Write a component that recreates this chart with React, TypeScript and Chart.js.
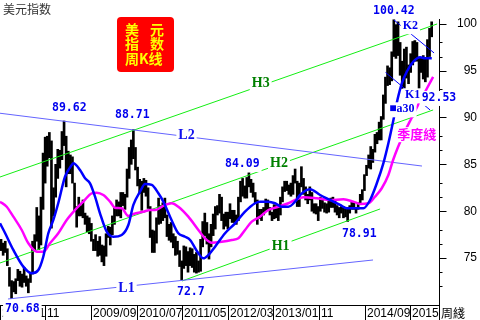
import React, { useEffect, useRef } from "react";
import { Chart, registerables } from "chart.js";

Chart.register(...registerables);

// ---------- data (weekly index from 2008-01-04; one candle per fortnight) ----------
const candleLows = [
  75.8, 75.3, 75.6, 74.2, 72.0, 70.68, 71.4, 71.2, 72.6, 72.0, 71.9, 72.4, 72.0, 71.3, 72.4, 73.3, 75.8, 76.8, 75.9, 76.4, 80.2, 83.0, 84.8, 85.7, 78.2, 79.5,
  81.5, 83.5, 84.6, 85.5, 87.0, 82.6, 84.0, 84.0, 83.0, 80.0, 78.3, 79.5, 79.5, 79.3, 78.6, 77.8, 77.6, 76.8, 75.8, 75.8, 75.2, 75.3, 74.6, 74.2, 75.2, 77.2,
  76.4, 77.5, 78.6, 79.5, 79.5, 79.3, 80.6, 80.2, 81.5, 83.5, 85.0, 85.6, 84.4, 82.7, 81.9, 80.1, 82.0, 81.6, 80.3, 77.2, 75.6, 75.6, 76.6, 78.6, 78.7, 79.0,
  79.3, 77.3, 76.9, 76.7, 76.1, 75.3, 75.4, 74.1, 72.7, 73.9, 74.2, 73.5, 74.2, 74.0, 73.5, 73.4, 73.5, 73.6, 76.2, 77.4, 76.5, 74.9, 76.2, 77.4, 78.1, 79.6,
  79.8, 79.0, 78.1, 78.4, 78.1, 79.2, 78.8, 78.8, 78.6, 79.0, 81.0, 81.6, 81.4, 81.4, 82.6, 82.0, 81.5, 80.9, 78.6, 79.2, 79.0, 79.6, 80.0, 80.1, 79.6, 79.0,
  79.2, 79.3, 79.0, 79.6, 81.0, 82.1, 82.2, 81.8, 81.6, 81.8, 83.0, 80.5, 80.5, 82.6, 81.8, 81.2, 80.8, 81.2, 80.0, 79.8, 79.7, 79.0, 80.0, 80.3, 79.9, 79.8,
  79.9, 80.4, 80.4, 79.9, 79.6, 79.3, 79.8, 79.3, 79.4, 78.91, 79.8, 80.2, 80.2, 79.8, 80.2, 80.8, 81.2, 82.2, 83.8, 84.6, 84.5, 85.2, 86.3, 87.2, 87.6, 87.6, 89.8,
  91.5, 93.4, 93.5, 93.9, 96.5, 96.3, 96.6, 94.5, 93.1, 93.1, 94.2, 93.6, 94.8, 95.6, 96.0, 96.0, 92.6, 94.8, 94.1, 93.8, 94.3, 96.5, 98.6,
];
const candleHighs = [
  77.0, 76.6, 76.8, 76.0, 74.0, 72.6, 72.5, 72.8, 73.8, 73.6, 73.3, 74.0, 73.1, 72.8, 73.4, 76.8, 77.5, 80.4, 79.5, 81.5, 86.2, 87.9, 88.0, 88.4, 87.5, 82.5,
  85.0, 86.6, 86.5, 88.5, 89.62, 88.0, 86.4, 86.0, 85.8, 83.0, 80.5, 81.5, 80.6, 81.2, 79.8, 79.5, 79.3, 78.7, 77.0, 77.5, 76.8, 77.3, 76.4, 76.3, 77.6, 78.4,
  78.3, 79.5, 80.5, 81.2, 81.0, 82.0, 82.0, 81.8, 84.5, 86.8, 87.6, 88.71, 86.8, 84.7, 83.4, 83.2, 83.5, 83.3, 82.5, 80.5, 78.0, 77.9, 79.3, 81.4, 80.6, 80.9,
  81.4, 79.6, 78.6, 78.8, 77.6, 77.3, 76.8, 75.8, 74.7, 76.3, 76.2, 75.7, 76.1, 76.0, 75.4, 75.6, 74.7, 77.0, 78.9, 79.8, 78.8, 77.6, 78.6, 79.7, 80.5, 80.6,
  81.8, 81.5, 79.7, 79.9, 79.9, 80.8, 80.1, 80.1, 79.6, 81.5, 83.2, 83.5, 82.7, 83.6, 84.09, 83.4, 83.0, 82.0, 81.2, 80.2, 80.2, 80.4, 81.3, 81.2, 80.4, 79.9,
  80.7, 80.6, 80.4, 81.5, 82.6, 83.2, 83.2, 82.8, 83.0, 83.8, 84.5, 83.2, 83.0, 84.75, 83.5, 82.6, 81.8, 82.6, 82.0, 80.8, 80.8, 80.5, 81.5, 81.2, 80.9, 80.8,
  81.3, 81.4, 81.5, 81.1, 80.6, 80.4, 80.5, 80.5, 80.3, 80.3, 80.6, 81.0, 80.9, 80.4, 80.9, 81.8, 82.3, 83.9, 84.9, 86.0, 86.9, 86.6, 88.2, 88.4, 89.5, 90.1, 92.4,
  94.3, 95.5, 95.3, 97.0, 100.42, 99.9, 100.2, 98.0, 96.0, 97.3, 97.5, 95.6, 96.8, 98.1, 98.2, 98.0, 96.3, 96.4, 96.6, 96.4, 98.3, 99.5, 100.2,
];

const blueMaWeeks = [
  0, 4.8, 12.7, 22.2, 30.2, 36.5, 41.2, 46, 50.8, 55.5, 61.9, 68.3, 69.8, 76.2, 81, 85.7, 90.5, 95.2, 101.6, 107.9,
  115.9, 122.2, 127, 133.3, 138.1, 144.5, 150.8, 155.5, 161.9, 169.8, 176.2, 181, 188.9, 193.6, 198.4, 204.8, 214.3, 223.8, 233.3, 242.9,
  247.6, 255.5, 261.9, 268.3, 274.6, 281, 285.7, 295.2, 304.8, 314.3, 323.8, 330.2, 346, 352.4, 358.8, 365, 369.8, 374.6, 378.4, 382.6,
  387.3, 393.6, 400, 404.8, 411.1,
];
const blueMaValues = [
  78.71, 77.68, 75.87, 74.09, 73.38, 73.73, 75.15, 77.65, 79.07, 80.88, 83.68, 84.93, 85.11, 84.4, 83.51, 82.98, 81.55, 79.78, 77.82, 77.28,
  77.47, 78.53, 80.67, 82.08, 82.91, 82.8, 81.91, 81.02, 79.42, 77.65, 77.28, 76.93, 75.51, 74.98, 75.33, 76.22, 77.65, 78.71, 79.95, 80.85,
  81.02, 81.02, 80.85, 80.48, 80.48, 81.02, 81.73, 82.34, 81.73, 81.2, 80.67, 80.31, 80.31, 81.2, 82.98, 85.11, 87.25, 89.73, 91.86, 93.64,
  94.88, 95.95, 96.42, 96.31, 96.31,
];

const seasonMaWeeks = [
  0, 6.4, 12.7, 20.7, 27, 35, 41.2, 47.6, 55.5, 63.5, 71.4, 79.3, 87.3, 92.1, 98.4, 104.8, 109.5, 115.9, 122.2, 127,
  136.5, 142.9, 147.6, 157.1, 163.5, 169.8, 179.3, 188.9, 195.2, 201.6, 211.1, 220.7, 227, 233.3, 239.7, 247.6, 255.5, 265, 274.6, 281,
  288.9, 301.6, 314.3, 327, 336.5, 342.9, 350.8, 357.1, 363.5, 369.8, 374.3, 379, 385.7, 392.4, 400, 406.7, 412.4,
];
const seasonMaValues = [
  81.02, 80.48, 79.42, 78.0, 76.58, 75.69, 75.69, 76.58, 77.65, 79.07, 80.13, 81.02, 81.91, 81.98, 81.73, 81.02, 80.38, 80.31, 79.49, 79.71,
  79.95, 80.13, 80.13, 80.67, 80.85, 80.48, 79.42, 78.0, 77.11, 76.64, 76.75, 76.93, 77.11, 78.0, 78.89, 79.42, 80.13, 80.48, 80.85, 81.2,
  81.49, 81.38, 81.2, 81.27, 81.02, 80.77, 80.85, 81.55, 82.45, 83.86, 85.46, 86.85, 88.56, 90.05, 91.76, 93.14, 94.32,
];

// trend lines: [week, value] end points
const lineL2 = [[0, 90.45], [401.8, 84.82]];
const lineL1 = [[7.6, 70.64], [355.2, 74.8]];
const lineH1 = [[173.3, 72.56], [361.9, 80.24]];
const lineH2 = [[0, 74.48], [412.4, 90.8]];
const lineH3 = [[0, 83.65], [416.2, 99.97]];
const lineK2 = [[375.2, 100.39], [413.3, 96.88]];
const lineK1 = [[367.1, 94.8], [409.5, 90.8]];

const yTickValues = [75, 80, 85, 90, 95, 100];
const yMinorTickValues = [72, 73.5, 76.5, 78, 81.5, 83, 86.5, 88, 91.5, 93, 96.5, 98];
const xTickWeeks = [0, 43.3, 86.7, 130, 173.4, 216.9, 260.4, 303.9, 347.3, 390.7];
const xTickLabels = ["2008/01", "11", "2009/09", "2010/07", "2011/05", "2012/03", "2013/01", "11", "2014/09", "2015"];

const priceNotes = [
  { text: "100.42", week: 355.2, value: 101.35 },
  { text: "89.62", week: 49.5, value: 91.01 },
  { text: "88.71", week: 109.5, value: 90.3 },
  { text: "84.09", week: 214.2, value: 85.04 },
  { text: "78.91", week: 325.6, value: 77.57 },
  { text: "72.7", week: 168.5, value: 71.4 },
  { text: "70.68", week: 4.8, value: 69.57 },
  { text: "92.53", week: 401.5, value: 92.08 },
];
const lineNotes = [
  { text: "H3", week: 239.7, value: 93.68, kind: "h" },
  { text: "H2", week: 257.1, value: 85.09, kind: "h" },
  { text: "H1", week: 258.7, value: 76.22, kind: "h" },
  { text: "L2", week: 169.8, value: 88.13, kind: "l" },
  { text: "L1", week: 112.7, value: 71.81, kind: "l" },
  { text: "K2", week: 383.4, value: 99.73, kind: "k" },
  { text: "K1", week: 385.6, value: 92.36, kind: "k" },
  { text: "■a30", week: 370.7, value: 90.87, kind: "k" },
  { text: "季度綫", week: 378.3, value: 88.22, kind: "s" },
];

// ---------- styles ----------
const GREEN = "#14ee14";
const PERI = "#6464ff";
const BLUE = "#0000ff";
const MAGENTA = "#ff00ff";

const noteStyle: Record<string, { font: string; color: string }> = {
  h: { font: "bold 14px 'Liberation Serif', serif", color: "#008000" },
  l: { font: "bold 14px 'Liberation Serif', serif", color: "#1010ee" },
  k: { font: "bold 12px 'Liberation Serif', 'DejaVu Sans', serif", color: "#0000ee" },
  s: { font: "bold 13px 'Noto Sans CJK SC', sans-serif", color: MAGENTA },
};

function toPoints(ws: number[], vs: number[]) {
  return ws.map((w, i) => ({ x: w, y: vs[i] }));
}
function segment(pts: number[][]) {
  return pts.map((p) => ({ x: p[0], y: p[1] }));
}

const overlayPlugin = {
  id: "overlay",
  afterDatasetsDraw(chart: any) {
    const { ctx, chartArea: area, scales } = chart;
    const xs = scales.x;
    const ys = scales.y;
    ctx.save();

    // axes
    const axisX = Math.round(area.right) + 0.5;
    const axisY = Math.round(area.bottom) + 0.5;
    ctx.strokeStyle = "#000";
    ctx.lineWidth = 1;
    ctx.beginPath();
    ctx.moveTo(axisX, Math.round(area.top));
    ctx.lineTo(axisX, 320);
    ctx.moveTo(0, axisY);
    ctx.lineTo(axisX, axisY);
    yTickValues.forEach((v) => {
      const py = Math.round(ys.getPixelForValue(v)) + 0.5;
      ctx.moveTo(axisX, py);
      ctx.lineTo(axisX + 7, py);
    });
    yMinorTickValues.forEach((v) => {
      const py = Math.round(ys.getPixelForValue(v)) + 0.5;
      ctx.moveTo(axisX, py);
      ctx.lineTo(axisX + 3, py);
    });
    xTickWeeks.forEach((w) => {
      const px = Math.round(xs.getPixelForValue(w)) + 0.5;
      ctx.moveTo(px, axisY);
      ctx.lineTo(px, 320);
    });
    ctx.stroke();

    ctx.fillStyle = "#000";
    ctx.font = "12px 'Liberation Sans', Arial, sans-serif";
    ctx.textAlign = "right";
    ctx.textBaseline = "middle";
    yTickValues.forEach((v) => ctx.fillText(String(v), 477, ys.getPixelForValue(v)));
    ctx.textAlign = "left";
    xTickWeeks.forEach((w, i) => {
      ctx.fillText(xTickLabels[i], Math.round(xs.getPixelForValue(w)) + 2, 313.5);
    });
    ctx.font = "12px 'Noto Sans CJK SC', sans-serif";
    ctx.fillText("周綫", 441, 313);

    // title
    ctx.fillStyle = "#333";
    ctx.font = "12px 'Noto Sans CJK SC', sans-serif";
    ctx.fillText("美元指数", 3, 9);

    // red badge
    ctx.fillStyle = "#ff0000";
    ctx.beginPath();
    ctx.roundRect(117, 17, 57, 55, 4);
    ctx.fill();
    ctx.fillStyle = "#ffff00";
    ctx.font = "bold 14px 'Noto Sans CJK SC', sans-serif";
    ctx.textAlign = "left";
    ctx.fillText("美", 125, 30);
    ctx.fillText("元", 150, 30);
    ctx.fillText("指", 125, 44);
    ctx.fillText("数", 150, 44);
    ctx.fillText("周K线", 125, 59);

    // notes with white background
    const drawNote = (text: string, px: number, py: number, font: string, color: string) => {
      ctx.font = font;
      const wdt = ctx.measureText(text).width;
      ctx.fillStyle = "#fff";
      ctx.fillRect(px - 2, py - 7, wdt + 4, 15);
      ctx.fillStyle = color;
      ctx.fillText(text, px, py);
    };
    ctx.textBaseline = "middle";
    lineNotes.forEach((n) => {
      const st = noteStyle[n.kind];
      drawNote(n.text, xs.getPixelForValue(n.week), ys.getPixelForValue(n.value), st.font, st.color);
    });
    priceNotes.forEach((n) => {
      drawNote(
        n.text,
        xs.getPixelForValue(n.week),
        ys.getPixelForValue(n.value),
        "bold 11.5px 'DejaVu Sans Mono', monospace",
        "#0000ee"
      );
    });

    ctx.restore();
  },
};

export default function App() {
  const ref = useRef<HTMLCanvasElement | null>(null);

  useEffect(() => {
    document.body.style.margin = "0";
    const canvas = ref.current;
    if (!canvas) return;

    const lineSet = (pts: number[][], color: string, width = 1) => ({
      type: "line" as const,
      data: segment(pts),
      borderColor: color,
      borderWidth: width,
      pointRadius: 0,
      tension: 0,
      fill: false,
      order: 5,
    });

    const chart = new Chart(canvas, {
      type: "bar",
      data: {
        datasets: [
          {
            type: "line",
            data: toPoints(blueMaWeeks, blueMaValues),
            borderColor: BLUE,
            borderWidth: 2.5,
            pointRadius: 0,
            cubicInterpolationMode: "monotone",
            fill: false,
            order: 1,
          } as any,
          {
            type: "line",
            data: toPoints(seasonMaWeeks, seasonMaValues),
            borderColor: MAGENTA,
            borderWidth: 2.5,
            pointRadius: 0,
            cubicInterpolationMode: "monotone",
            fill: false,
            order: 2,
          } as any,
          lineSet(lineL2, PERI),
          lineSet(lineL1, PERI),
          lineSet(lineH1, GREEN),
          lineSet(lineH2, GREEN),
          lineSet(lineH3, GREEN),
          lineSet(lineK2, BLUE),
          lineSet(lineK1, BLUE),
          {
            type: "bar",
            data: candleLows.map((lo, i) => ({ x: 2 * i + 1, y: [lo, candleHighs[i]] })),
            backgroundColor: "#000",
            borderWidth: 0,
            barThickness: 2,
            grouped: false,
            order: 10,
          } as any,
        ],
      },
      options: {
        responsive: false,
        maintainAspectRatio: false,
        devicePixelRatio: 1,
        animation: false,
        events: [],
        layout: { padding: { left: 0, right: 41, top: 19, bottom: 15 } },
        plugins: { legend: { display: false }, tooltip: { enabled: false } },
        scales: {
          x: { type: "linear", min: 0, max: 418, display: false, offset: false },
          y: { type: "linear", min: 70, max: 100.5, display: false },
        },
      },
      plugins: [overlayPlugin],
    });
    return () => chart.destroy();
  }, []);

  return (
    <canvas
      ref={ref}
      width={480}
      height={320}
      style={{ display: "block", position: "absolute", left: 0, top: 0, width: 480, height: 320 }}
    />
  );
}
